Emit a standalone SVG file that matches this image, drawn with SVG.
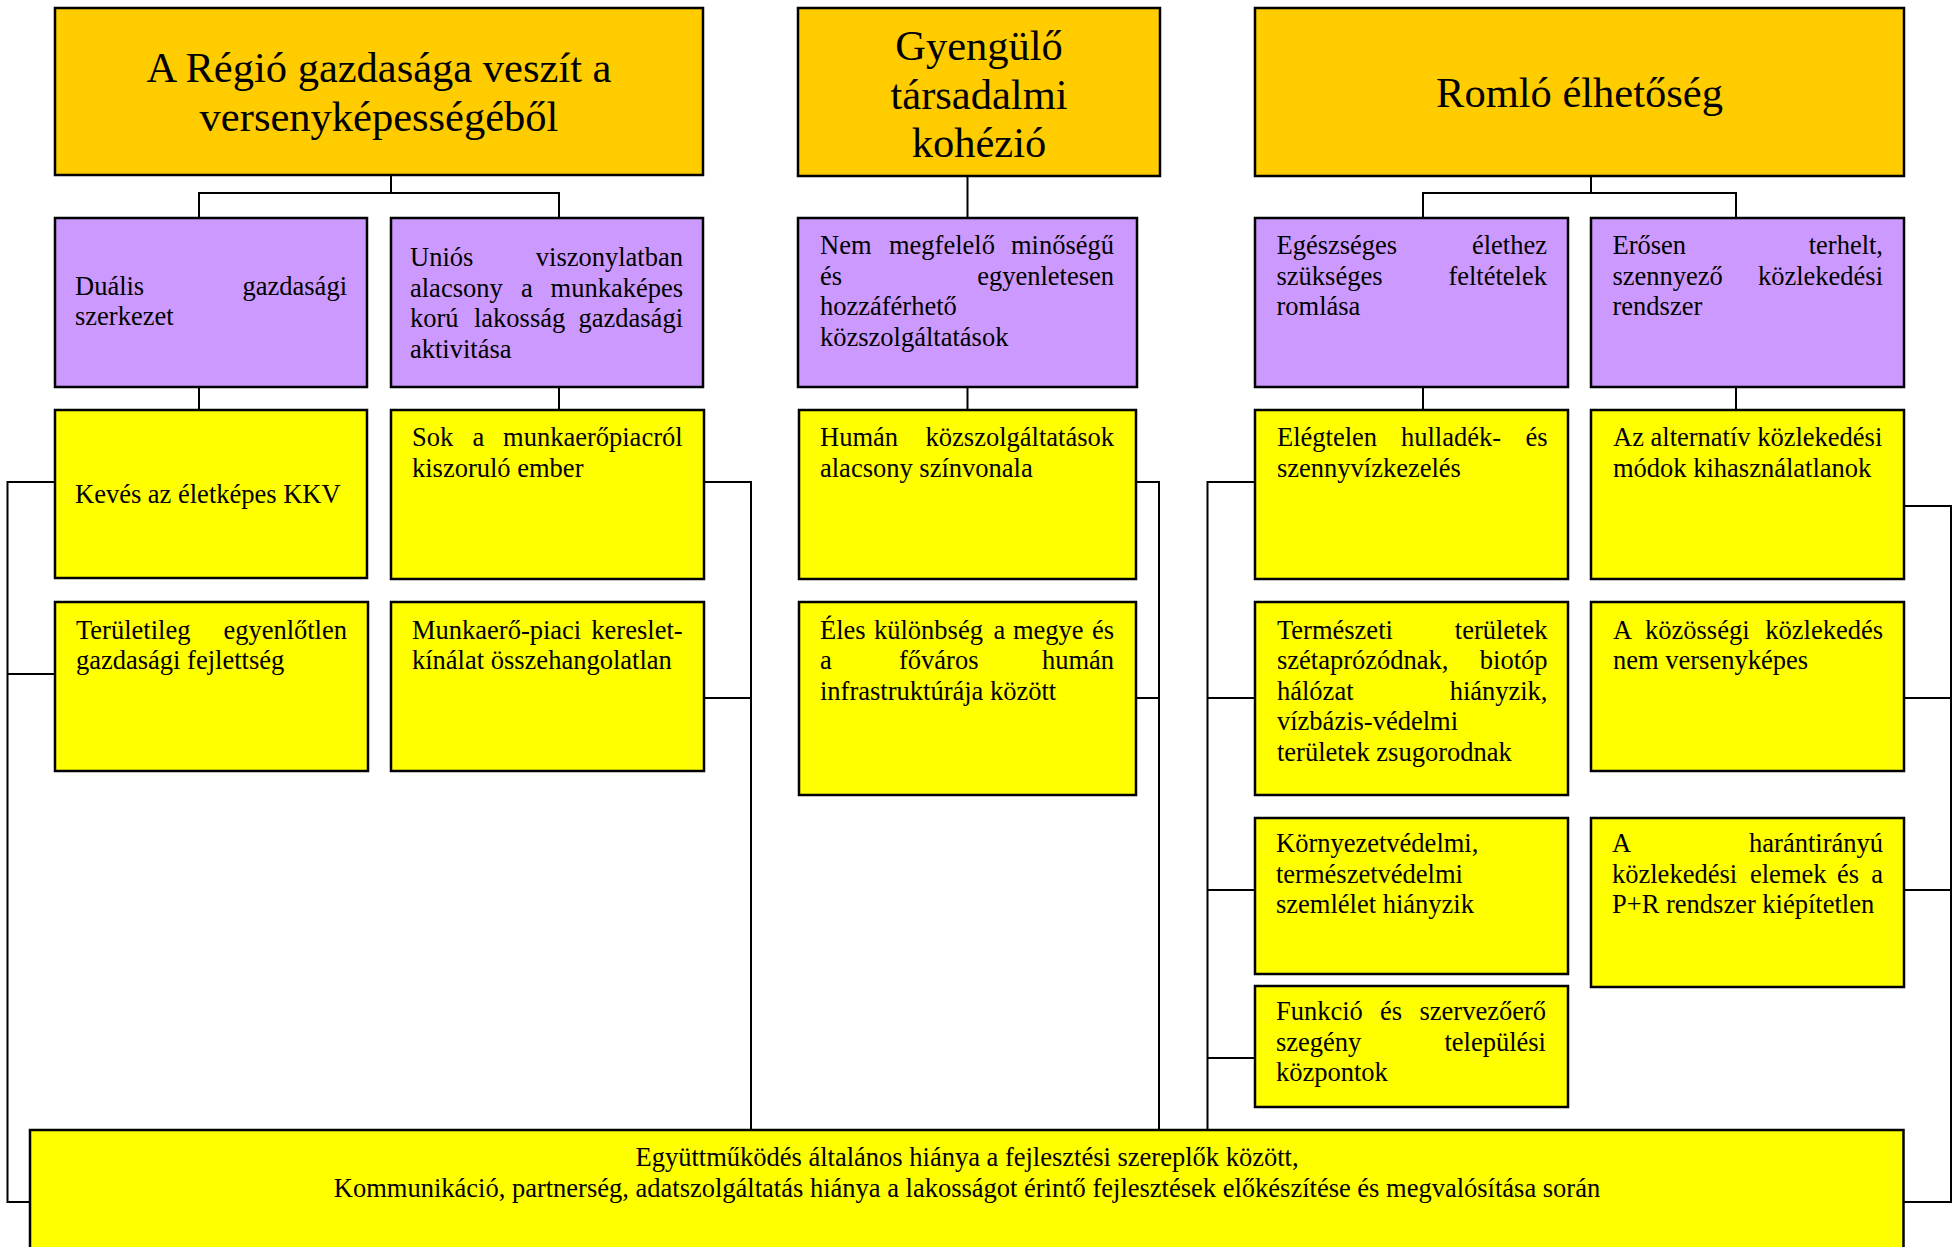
<svg xmlns="http://www.w3.org/2000/svg" width="1955" height="1247" viewBox="0 0 1955 1247">
<style>
text{font-family:"Liberation Serif","Times New Roman",serif;font-size:26.5px;fill:#000}
.h{font-size:42.5px;text-anchor:middle}
.m{text-anchor:middle}
.e{text-anchor:end}
.b{stroke:#000;stroke-width:2.5}
.o{fill:#FFCC00}.p{fill:#CC99FF}.y{fill:#FFFF00}
.c{fill:none;stroke:#000;stroke-width:2}
</style>
<rect width="1955" height="1247" fill="#fff"/>
<g id="connectors" class="c">
<polyline points="391,176 391,193"/>
<polyline points="199,218 199,193 559,193 559,218"/>
<polyline points="967.5,176 967.5,218"/>
<polyline points="1591,176 1591,193"/>
<polyline points="1423,218 1423,193 1736,193 1736,218"/>
<line x1="199" y1="387" x2="199" y2="410"/>
<line x1="559" y1="387" x2="559" y2="410"/>
<line x1="967.5" y1="387" x2="967.5" y2="410"/>
<line x1="1423" y1="387" x2="1423" y2="410"/>
<line x1="1736" y1="387" x2="1736" y2="410"/>
<polyline points="55,482 7.5,482 7.5,1202 30,1202"/>
<line x1="7.5" y1="674" x2="55" y2="674"/>
<polyline points="704,482 751,482 751,1130"/>
<line x1="704" y1="698" x2="751" y2="698"/>
<polyline points="1136,482 1159,482 1159,1130"/>
<line x1="1136" y1="698" x2="1159" y2="698"/>
<polyline points="1255,482 1207.5,482 1207.5,1130"/>
<line x1="1207.5" y1="698" x2="1255" y2="698"/>
<line x1="1207.5" y1="890" x2="1255" y2="890"/>
<line x1="1207.5" y1="1058" x2="1255" y2="1058"/>
<polyline points="1904,506 1951,506 1951,1202 1904,1202"/>
<line x1="1904" y1="698" x2="1951" y2="698"/>
<line x1="1904" y1="890" x2="1951" y2="890"/>
</g>
<g id="n-regio">
<rect class="b o" x="55" y="8" width="648" height="167"/>
<text class="h" x="379" y="82">A Régió gazdasága veszít a</text>
<text class="h" x="379" y="131">versenyképességéből</text>
</g>
<g id="n-kohezio">
<rect class="b o" x="798" y="8" width="362" height="168"/>
<text class="h" x="979" y="60">Gyengülő</text>
<text class="h" x="979" y="108.5">társadalmi</text>
<text class="h" x="979" y="157">kohézió</text>
</g>
<g id="n-elhetoseg">
<rect class="b o" x="1255" y="8" width="649" height="168"/>
<text class="h" x="1579.5" y="107">Romló élhetőség</text>
</g>
<g id="n-dualis">
<rect class="b p" x="55" y="218" width="312" height="169"/>
<text x="75" y="295">Duális</text><text class="e" x="347" y="295">gazdasági</text>
<text x="75" y="325">szerkezet</text>
</g>
<g id="n-unios">
<rect class="b p" x="391" y="218" width="312" height="169"/>
<text x="410" y="266">Uniós</text><text class="e" x="683" y="266">viszonylatban</text>
<text x="410" y="296.5">alacsony</text><text x="521" y="296.5">a</text><text class="e" x="683" y="296.5">munkaképes</text>
<text x="410" y="327">korú</text><text x="474" y="327">lakosság</text><text class="e" x="683" y="327">gazdasági</text>
<text x="410" y="357.5">aktivitása</text>
</g>
<g id="n-kozszolg">
<rect class="b p" x="798" y="218" width="339" height="169"/>
<text x="820" y="254">Nem</text><text x="889" y="254">megfelelő</text><text class="e" x="1114" y="254">minőségű</text>
<text x="820" y="284.5">és</text><text class="e" x="1114" y="284.5">egyenletesen</text>
<text x="820" y="315">hozzáférhető</text>
<text x="820" y="345.5">közszolgáltatások</text>
</g>
<g id="n-egeszseges">
<rect class="b p" x="1255" y="218" width="313" height="169"/>
<text x="1276.5" y="254">Egészséges</text><text class="e" x="1547" y="254">élethez</text>
<text x="1276.5" y="284.5">szükséges</text><text class="e" x="1547" y="284.5">feltételek</text>
<text x="1276.5" y="315">romlása</text>
</g>
<g id="n-kozlekedes">
<rect class="b p" x="1591" y="218" width="313" height="169"/>
<text x="1612.5" y="254">Erősen</text><text class="e" x="1883" y="254">terhelt,</text>
<text x="1612.5" y="284.5">szennyező</text><text class="e" x="1883" y="284.5">közlekedési</text>
<text x="1612.5" y="315">rendszer</text>
</g>
<g id="n-kkv">
<rect class="b y" x="55" y="410" width="312" height="168"/>
<text x="75" y="503">Kevés az életképes KKV</text>
</g>
<g id="n-kiszorulo">
<rect class="b y" x="391" y="410" width="313" height="169"/>
<text x="412" y="446">Sok</text><text x="472.6" y="446">a</text><text class="e" x="682.6" y="446">munkaerőpiacról</text>
<text x="412" y="476.5">kiszoruló ember</text>
</g>
<g id="n-human">
<rect class="b y" x="799" y="410" width="337" height="169"/>
<text x="820" y="446">Humán</text><text class="e" x="1114" y="446">közszolgáltatások</text>
<text x="820" y="476.5">alacsony színvonala</text>
</g>
<g id="n-hulladek">
<rect class="b y" x="1255" y="410" width="313" height="169"/>
<text x="1277" y="446">Elégtelen</text><text x="1401" y="446">hulladék-</text><text class="e" x="1547.5" y="446">és</text>
<text x="1277" y="476.5">szennyvízkezelés</text>
</g>
<g id="n-alternativ">
<rect class="b y" x="1591" y="410" width="313" height="169"/>
<text x="1613" y="446">Az alternatív közlekedési</text>
<text x="1613" y="476.5">módok kihasználatlanok</text>
</g>
<g id="n-teruleti">
<rect class="b y" x="55" y="602" width="313" height="169"/>
<text x="76" y="638.5">Területileg</text><text class="e" x="347" y="638.5">egyenlőtlen</text>
<text x="76" y="669">gazdasági fejlettség</text>
</g>
<g id="n-munkaero">
<rect class="b y" x="391" y="602" width="313" height="169"/>
<text x="412" y="638.5">Munkaerő-piaci</text><text class="e" x="682.6" y="638.5">kereslet-</text>
<text x="412" y="669">kínálat összehangolatlan</text>
</g>
<g id="n-eles">
<rect class="b y" x="799" y="602" width="337" height="193"/>
<text x="820" y="638.5">Éles</text><text x="874" y="638.5">különbség</text><text x="993.5" y="638.5">a</text><text x="1013" y="638.5">megye</text><text class="e" x="1114" y="638.5">és</text>
<text x="820" y="669">a</text><text x="899" y="669">főváros</text><text class="e" x="1114" y="669">humán</text>
<text x="820" y="699.5">infrastruktúrája között</text>
</g>
<g id="n-termeszeti">
<rect class="b y" x="1255" y="602" width="313" height="193"/>
<text x="1277" y="638.5">Természeti</text><text class="e" x="1547.5" y="638.5">területek</text>
<text x="1277" y="669">szétaprózódnak,</text><text class="e" x="1547.5" y="669">biotóp</text>
<text x="1277" y="699.5">hálózat</text><text class="e" x="1547.5" y="699.5">hiányzik,</text>
<text x="1277" y="730">vízbázis-védelmi</text>
<text x="1277" y="760.5">területek zsugorodnak</text>
</g>
<g id="n-kozossegi">
<rect class="b y" x="1591" y="602" width="313" height="169"/>
<text x="1613" y="638.5">A</text><text x="1645" y="638.5">közösségi</text><text class="e" x="1883" y="638.5">közlekedés</text>
<text x="1613" y="669">nem versenyképes</text>
</g>
<g id="n-kornyezet">
<rect class="b y" x="1255" y="818" width="313" height="156"/>
<text x="1276" y="852">Környezetvédelmi,</text>
<text x="1276" y="882.5">természetvédelmi</text>
<text x="1276" y="913">szemlélet hiányzik</text>
</g>
<g id="n-harant">
<rect class="b y" x="1591" y="818" width="313" height="169"/>
<text x="1612" y="852">A</text><text class="e" x="1883" y="852">harántirányú</text>
<text x="1612" y="882.5">közlekedési</text><text x="1750" y="882.5">elemek</text><text x="1837" y="882.5">és</text><text class="e" x="1883" y="882.5">a</text>
<text x="1612" y="913">P+R rendszer kiépítetlen</text>
</g>
<g id="n-funkcio">
<rect class="b y" x="1255" y="986" width="313" height="121"/>
<text x="1276" y="1020">Funkció</text><text x="1380" y="1020">és</text><text class="e" x="1546" y="1020">szervezőerő</text>
<text x="1276" y="1050.5">szegény</text><text class="e" x="1546" y="1050.5">települési</text>
<text x="1276" y="1081">központok</text>
</g>
<g id="n-egyuttmukodes">
<rect class="b y" x="30" y="1130" width="1873.5" height="140"/>
<text class="m" x="967" y="1166">Együttműködés általános hiánya a fejlesztési szereplők között,</text>
<text class="m" x="967" y="1196.5">Kommunikáció, partnerség, adatszolgáltatás hiánya a lakosságot érintő fejlesztések előkészítése és megvalósítása során</text>
</g>
</svg>
